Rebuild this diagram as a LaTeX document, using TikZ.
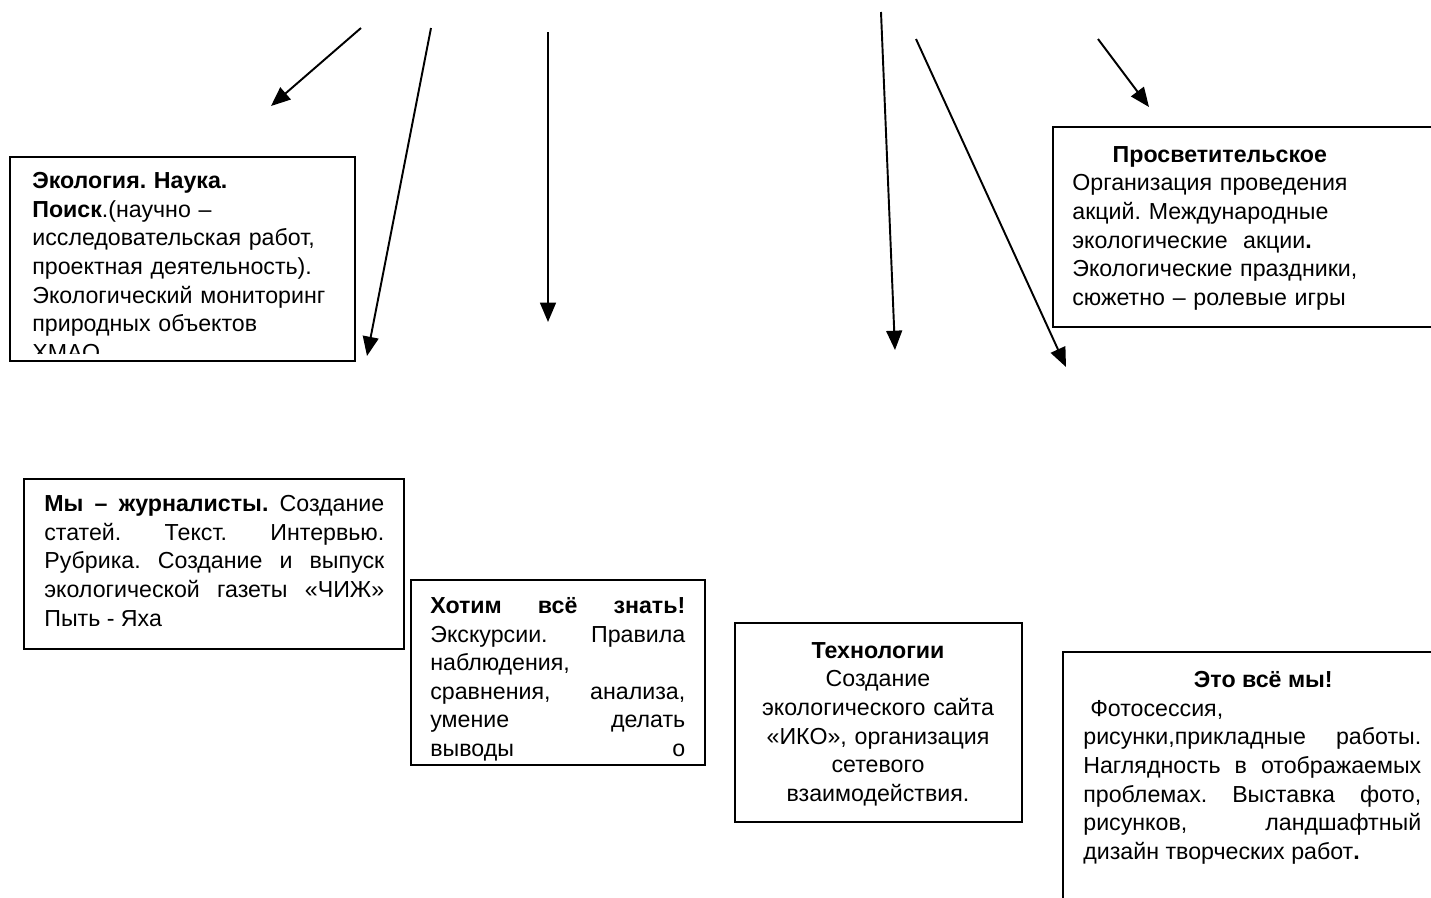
\documentclass[tikz,border=0pt]{standalone}
\usepackage{fontspec}
\setmainfont{Liberation Sans}
\usetikzlibrary{arrows.meta}
\frenchspacing

\tikzset{
	box/.style={draw, line width=1pt},
	txt/.style={anchor=north west, inner sep=0pt, font=\fontsize{13.2}{16.3}\selectfont\frenchspacing},
	arr/.style={line width=1.1pt, -{Triangle[length=11pt,width=9pt]}}
}

\begin{document}
\begin{tikzpicture}[x=0.02cm, y=-0.02cm]
				\clip (0,0) rectangle (1431,897);
				\foreach \sx/\sy/\ex/\ey [count=\i] in {361/28/271/106, 431/28/367/356, 548/32/548/322, 881/12/895/350, 916/39/1066/367, 1098/39/1149/107} {
					\coordinate (s\i) at (\sx,\sy);
					\coordinate (e\i) at (\ex,\ey);
					\draw[arr] (s\i) -- (e\i);
				}
				\draw[box] (10,157) rectangle (355,361);
				\begin{scope}
					\clip (10,157) rectangle (355,353);
					\node[txt, text width=6.4cm, align=left] (ekologia) at (32,172) {\textbf{Экология. Наука.}\\ \textbf{Поиск}.(научно –\\ исследовательская работ,\\ проектная деятельность).\\ Экологический мониторинг\\ природных объектов\\ ХМАО};
				\end{scope}
				\draw[box] (1053,127) rectangle (1460,327);
				\node[txt, text width=5.9cm, align=left] (prosvet) at (1072,146) {\hfill\textbf{Просветительское}\hfill\null\\ Организация проведения\\ акций. Международные\\ экологические \ акции\textbf{.}\\ Экологические праздники,\\ сюжетно – ролевые игры};
				\draw[box] (24,479) rectangle (404,649);
				\node[txt, text width=6.8cm, align=justify] (zhurnal) at (44,495) {\textbf{Мы – журналисты.} Создание\linebreak статей. Текст. Интервью.\linebreak Рубрика. Создание и выпуск\linebreak экологической газеты «ЧИЖ»\linebreak Пыть - Яха};
				\draw[box] (411,580) rectangle (705,765);
				\node[txt, text width=5.1cm, align=justify] (znat) at (430,597) {\textbf{Хотим всё знать!}\linebreak Экскурсии. Правила\linebreak наблюдения,\\ сравнения, анализа,\linebreak умение делать\linebreak выводы\hfill о};
				\draw[box] (735,623) rectangle (1022,822);
				\node[txt, anchor=north, text width=5.4cm, align=center] (tehno) at (878,642) {\textbf{Технологии}\\ Создание\\ экологического сайта\\ «ИКО», организация\\ сетевого\\ взаимодействия.};
				\draw[box] (1063,652) rectangle (1460,920);
				\node[txt, text width=6.76cm, align=justify] (my) at (1083,671) {\hfill\hspace*{0.95em}\textbf{Это всё мы!}\hfill\null\\ \hspace*{0.3em}Фотосессия,\\ рисунки,прикладные работы.\linebreak Наглядность в отображаемых\linebreak проблемах. Выставка фото,\linebreak рисунков, ландшафтный\linebreak дизайн творческих работ\textbf{.}};
			\end{tikzpicture}
\end{document}
